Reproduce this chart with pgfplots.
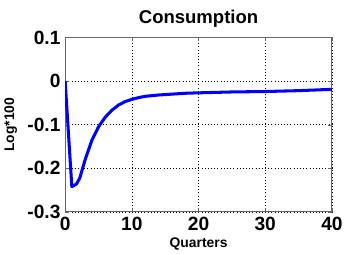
\documentclass[border=0pt]{standalone}
\usepackage{pgfplots}
\pgfplotsset{compat=1.18}
\usepackage{fontspec}
\setmainfont{Liberation Sans}
\begin{document}
\begin{tikzpicture}
\begin{axis}[
  scale only axis,
  width=201.75pt, height=132pt,
  xmin=0, xmax=40, ymin=-0.3, ymax=0.1,
  xtick={0,10,20,30,40}, ytick={-0.3,-0.2,-0.1,0,0.1},
  yticklabel style={/pgf/number format/fixed, /pgf/number format/precision=1},
  /pgf/number format/assume math mode=true,
  tick label style={font=\fontsize{14.5}{15}\selectfont\bfseries},
  grid=major,
  major grid style={black, dotted, line width=0.5pt},
  axis line style={black!60, line width=0.8pt},
  tick style={black!60},
  tick align=inside,
  major tick length=3pt,
  title={\fontsize{14}{15}\selectfont\bfseries Consumption},
  title style={yshift=-2pt},
  xlabel={\fontsize{10.5}{11}\selectfont\bfseries Quarters},
  ylabel={\fontsize{10.5}{11}\selectfont\bfseries Log*100},
  xlabel style={yshift=1pt},
  ylabel style={yshift=1pt},
  name=ax,
]
\addplot[blue, line width=2.3pt, line join=round] coordinates {
(0,0) (1,-0.242) (1.7,-0.236) (2.2,-0.222) (3,-0.180) (4,-0.136) (5,-0.105) (6,-0.083)
(7,-0.067) (8,-0.055) (9,-0.047) (10,-0.042) (11,-0.038) (12,-0.035)
(14,-0.032) (16,-0.030) (18,-0.028) (20,-0.027) (25,-0.025) (30,-0.024)
(35,-0.022) (40,-0.019)
};
\end{axis}
\useasboundingbox ([xshift=-48.75pt, yshift=-30.75pt]ax.south west) rectangle ([xshift=9.75pt, yshift=28.3pt]ax.north east);
\end{tikzpicture}
\end{document}
